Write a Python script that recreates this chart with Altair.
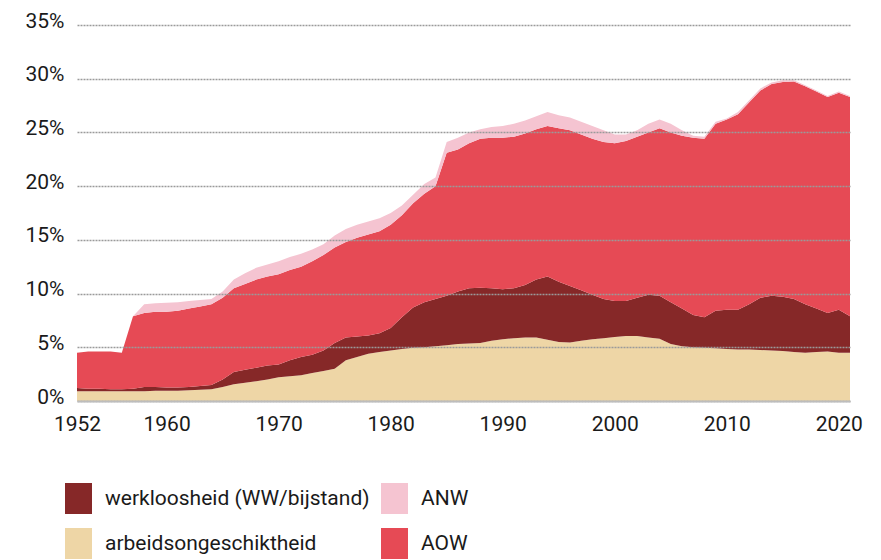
import altair as alt
import pandas as pd

years = list(range(1952, 2022))

arbeidsongeschiktheid = [
    0.9, 0.9, 0.9, 0.9, 0.9, 0.9, 0.9, 0.95, 0.95, 0.95,
    1.0, 1.05, 1.1, 1.3, 1.55, 1.7, 1.85, 2.0, 2.2, 2.3,
    2.4, 2.6, 2.8, 3.0, 3.8, 4.1, 4.4, 4.55, 4.7, 4.85,
    4.95, 5.0, 5.1, 5.2, 5.3, 5.35, 5.4, 5.6, 5.75, 5.85,
    5.9, 5.9, 5.7, 5.5, 5.45, 5.6, 5.75, 5.85, 5.95, 6.05,
    6.05, 5.9, 5.8, 5.3, 5.1, 5.0, 4.95, 4.9, 4.85, 4.8,
    4.8, 4.75, 4.7, 4.65, 4.55, 4.5, 4.55, 4.6, 4.5, 4.5,
]
werkloosheid = [
    0.3, 0.25, 0.25, 0.2, 0.2, 0.25, 0.4, 0.35, 0.3, 0.3,
    0.3, 0.35, 0.4, 0.7, 1.15, 1.2, 1.25, 1.3, 1.2, 1.5,
    1.7, 1.7, 1.9, 2.4, 2.1, 1.9, 1.7, 1.75, 2.1, 2.95,
    3.75, 4.2, 4.4, 4.6, 4.9, 5.15, 5.15, 4.9, 4.65, 4.65,
    4.9, 5.4, 5.9, 5.6, 5.25, 4.7, 4.15, 3.65, 3.35, 3.25,
    3.55, 4.0, 4.0, 3.9, 3.5, 3.0, 2.85, 3.5, 3.65, 3.7,
    4.2, 4.85, 5.1, 5.05, 4.95, 4.5, 4.05, 3.6, 4.0, 3.4,
]
aow = [
    3.3, 3.45, 3.45, 3.5, 3.4, 6.75, 6.9, 7.0, 7.05, 7.15,
    7.3, 7.4, 7.5, 7.6, 7.8, 8.0, 8.2, 8.3, 8.4, 8.4,
    8.4, 8.7, 8.9, 8.9, 8.9, 9.2, 9.4, 9.5, 9.6, 9.5,
    9.7, 10.1, 10.5, 13.3, 13.2, 13.5, 13.85, 14.0, 14.1, 14.1,
    14.1, 14.0, 14.0, 14.3, 14.5, 14.5, 14.5, 14.6, 14.7, 14.9,
    15.0, 15.1, 15.6, 15.8, 16.1, 16.5, 16.6, 17.4, 17.7, 18.2,
    18.8, 19.3, 19.7, 20.0, 20.25, 20.3, 20.2, 20.1, 20.2, 20.4,
]
anw = [
    0.0, 0.0, 0.0, 0.0, 0.0, 0.0, 0.8, 0.8, 0.85, 0.8,
    0.7, 0.6, 0.5, 0.6, 0.8, 1.0, 1.1, 1.1, 1.2, 1.2,
    1.2, 1.1, 1.0, 1.1, 1.2, 1.2, 1.2, 1.2, 1.1, 0.9,
    0.8, 0.9, 0.8, 1.0, 1.1, 1.0, 0.9, 1.0, 1.1, 1.2,
    1.2, 1.2, 1.3, 1.2, 1.2, 1.2, 1.2, 1.1, 0.8, 0.6,
    0.6, 0.8, 0.8, 0.8, 0.5, 0.2, 0.2, 0.2, 0.1, 0.2,
    0.2, 0.2, 0.15, 0.15, 0.1, 0.1, 0.1, 0.1, 0.1, 0.1,
]

stack_series = ["arbeidsongeschiktheid", "werkloosheid (WW/bijstand)", "AOW", "ANW"]
stack_values = [arbeidsongeschiktheid, werkloosheid, aow, anw]

legend_order = ["werkloosheid (WW/bijstand)", "arbeidsongeschiktheid", "ANW", "AOW"]
legend_colors = ["#862828", "#EED6A6", "#F5C4D1", "#E64A55"]

x_ticks = [1952, 1960, 1970, 1980, 1990, 2000, 2010, 2020]
y_ticks = [0, 0.05, 0.10, 0.15, 0.20, 0.25, 0.30, 0.35]

rows = []
for i, yr in enumerate(years):
    for k, (name, vals) in enumerate(zip(stack_series, stack_values)):
        rows.append({"jaar": yr, "regeling": name, "aandeel": vals[i] / 100.0, "volgorde": k})
df = pd.DataFrame(rows)

FONT = "Roboto"
TXT = "#1a1a1a"

chart = alt.Chart(df).mark_area(interpolate="linear").encode(
    x=alt.X(
        "jaar:Q",
        scale=alt.Scale(domain=[1952, 2021], nice=False, zero=False),
        axis=alt.Axis(
            values=x_ticks, format="d", title=None, grid=False, ticks=False,
            labelFontSize=21, labelPadding=12, labelFlush=False,
            domainColor="#bdbdbd", domainWidth=2, zindex=1,
        ),
    ),
    y=alt.Y(
        "aandeel:Q",
        stack="zero",
        scale=alt.Scale(domain=[0, 0.35], nice=False),
        axis=alt.Axis(
            values=y_ticks, format=".0%", title=None, ticks=False, domain=False,
            gridDash=[2, 1], gridColor="#9a9a9a", gridWidth=1.4,
            labelFontSize=21, labelPadding=13, labelOffset=-4, zindex=1,
        ),
    ),
    color=alt.Color(
        "regeling:N",
        scale=alt.Scale(domain=legend_order, range=legend_colors),
        legend=alt.Legend(
            title=None, orient="none", legendX=-14, legendY=458, columns=2,
            symbolType="M-0.87,-1L0.87,-1L0.87,1L-0.87,1Z", symbolSize=961,
            symbolStrokeWidth=0, symbolOpacity=1,
            labelFontSize=21, labelOffset=11, rowPadding=14, columnPadding=9,
            padding=0, labelLimit=500, labelFont=FONT, labelColor=TXT,
        ),
    ),
    order=alt.Order("volgorde:Q"),
).properties(
    width=773,
    height=376,
    padding={"left": 69, "top": 17, "right": 20, "bottom": 170},
    autosize=alt.AutoSizeParams(type="none"),
).configure_axis(
    labelFont=FONT, labelColor=TXT,
).configure_view(
    stroke=None,
)

chart.save("out.html", embed_options={"renderer": "svg", "actions": False})
